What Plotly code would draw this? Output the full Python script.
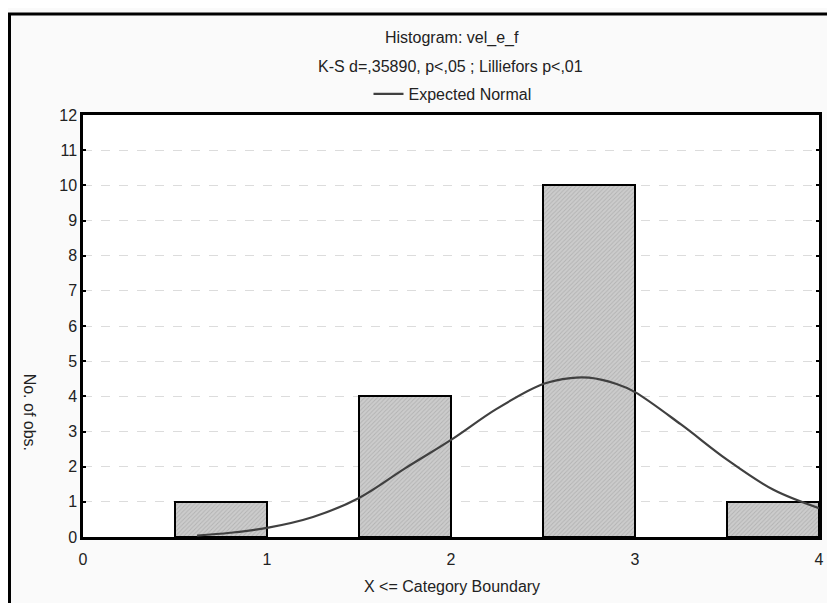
import plotly.graph_objects as go

# Histogram data (upper category boundaries and counts)
bin_upper = [1, 2, 3, 4]
counts = [1, 4, 10, 1]
bin_width = 0.5

# Expected normal curve
curve_x = [0.62, 0.8, 1.0, 1.25, 1.5, 1.75, 2.0, 2.25, 2.5, 2.65, 2.75, 2.9, 3.0, 3.25, 3.5, 3.75, 4.0]
curve_y = [0.04, 0.12, 0.26, 0.57, 1.11, 1.95, 2.76, 3.65, 4.35, 4.52, 4.53, 4.35, 4.12, 3.2, 2.2, 1.35, 0.82]

y_ticks = list(range(0, 13))
x_ticks = [0, 1, 2, 3, 4]

# page offset of the figure div (browser body margin)
OFF = 8
W, H = 835 - OFF, 603 - OFF
# plot area in page pixels: x 83..824, y 115..537
L = 83 - OFF
T = 115 - OFF
R = W - (824 - OFF)
B = H - (537 - OFF)
pw, ph = W - L - R, H - T - B

def px(xpage):
    return (xpage - OFF - L) / pw

def py(ypage):
    return (H - B - (ypage - OFF)) / ph

FAM = "Liberation Sans, Arial, sans-serif"
TXT = "#222222"
FS = 16

fig = go.Figure()
fig.add_trace(go.Bar(
    x=bin_upper, y=counts, width=bin_width, offset=-bin_width,
    marker=dict(color="#c4c4c4",
                line=dict(color="black", width=2),
                pattern=dict(shape="/", fgcolor="#999999", bgcolor="#cccccc",
                             size=3, solidity=0.3)),
    showlegend=False, hoverinfo="skip"))
fig.add_trace(go.Scatter(
    x=curve_x, y=curve_y, mode="lines", name="Expected Normal",
    line=dict(color="#404040", width=2.2, shape="spline")))

fig.update_layout(
    width=W, height=H,
    margin=dict(l=L, r=R, t=T, b=B),
    paper_bgcolor="#fafafa", plot_bgcolor="white",
    font=dict(family=FAM, size=FS, color=TXT),
    bargap=0,
    showlegend=True,
    legend=dict(orientation="h", x=px(455), xanchor="center", y=py(94), yanchor="middle",
                bgcolor="rgba(0,0,0,0)", font=dict(size=FS, color=TXT),
                itemwidth=30),
    xaxis=dict(range=[0, 4], tickvals=x_ticks, ticktext=[str(v) for v in x_ticks],
               showgrid=False, zeroline=False, showline=True, linecolor="black",
               linewidth=2.5, mirror=True, ticks="", tickfont=dict(size=FS, color=TXT),
               ticklabelstandoff=6),
    yaxis=dict(range=[0, 12], tickvals=y_ticks, showgrid=True, gridcolor="#dcdcdc",
               griddash="dash", gridwidth=1, zeroline=False, showline=True,
               linecolor="black", linewidth=2.5, mirror="ticks", ticks="inside",
               ticklen=3, tickwidth=2, tickcolor="black",
               tickfont=dict(size=FS, color=TXT)),
    annotations=[
        dict(text="Histogram: vel_e_f", xref="paper", yref="paper", x=px(455), y=py(38),
             showarrow=False, font=dict(size=FS, color=TXT), xanchor="center", yanchor="middle"),
        dict(text="K-S d=,35890, p<,05 ; Lilliefors p<,01", xref="paper", yref="paper",
             x=px(453), y=py(66), showarrow=False, font=dict(size=FS, color=TXT),
             xanchor="center", yanchor="middle"),
        dict(text="No. of obs.", xref="paper", yref="paper", x=px(30), y=py(412),
             showarrow=False, textangle=90, font=dict(size=FS, color=TXT),
             xanchor="center", yanchor="middle"),
        dict(text="X <= Category Boundary", xref="paper", yref="paper", x=px(455), y=py(586),
             showarrow=False, font=dict(size=FS, color=TXT),
             xanchor="center", yanchor="middle"),
    ],
    shapes=[
        dict(type="rect", xref="paper", yref="paper",
             x0=px(9), x1=px(850), y0=py(620), y1=py(14),
             line=dict(color="black", width=3), fillcolor="rgba(0,0,0,0)", layer="above"),
    ],
)

fig.write_html("out.html")
